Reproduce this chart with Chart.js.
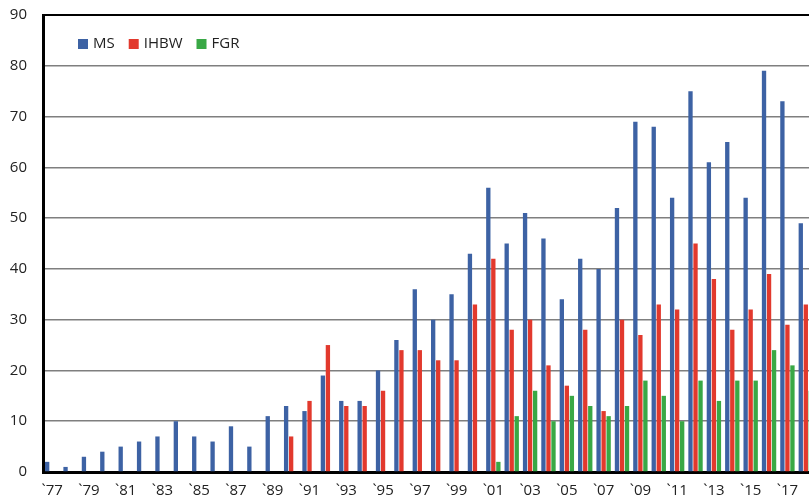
<!DOCTYPE html>
<html>
<head>
<meta charset="utf-8">
<script src="https://cdn.jsdelivr.net/npm/chart.js@4/dist/chart.umd.min.js"></script>
<style>
html,body{margin:0;padding:0;background:#fff;overflow:hidden;width:809px;height:500px;}
#wrap{position:absolute;left:0;top:0;width:815px;height:500px;}
</style>
</head>
<body>
<div id="wrap"><canvas id="c" width="815" height="500"></canvas></div>
<script>
const years = [1977,1978,1979,1980,1981,1982,1983,1984,1985,1986,1987,1988,1989,1990,1991,1992,1993,1994,1995,1996,1997,1998,1999,2000,2001,2002,2003,2004,2005,2006,2007,2008,2009,2010,2011,2012,2013,2014,2015,2016,2017,2018];
const tickLabels = ['`77','`79','`81','`83','`85','`87','`89','`91','`93','`95','`97','`99','`01','`03','`05','`07','`09','`11','`13','`15','`17'];
const msValues   = [2,1,3,4,5,6,7,10,7,6,9,5,11,13,12,19,14,14,20,26,36,30,35,43,56,45,51,46,34,42,40,52,69,68,54,75,61,65,54,79,73,49];
const ihbwValues = [0,0,0,0,0,0,0,0,0,0,0,0,0,7,14,25,13,13,16,24,24,22,22,33,42,28,30,21,17,28,12,30,27,33,32,45,38,28,32,39,29,33];
const fgrValues  = [0,0,0,0,0,0,0,0,0,0,0,0,0,0,0,0,0,0,0,0,0,0,0,0,2,11,16,10,15,13,11,13,18,15,10,18,14,18,18,24,21,16];
const seriesNames = ['MS','IHBW','FGR'];
const seriesColors = ['#3d62a4','#e2392d','#39a845'];

const FONT = '"Open Sans", "Noto Sans", sans-serif';

const legendPlugin = {
  id: 'customLegend',
  afterDraw(chart) {
    const ctx = chart.ctx;
    ctx.save();
    ctx.font = '15px ' + FONT;
    ctx.textBaseline = 'middle';
    ctx.textAlign = 'left';
    let x = 78;
    const y = 44;
    chart.data.datasets.forEach(ds => {
      ctx.fillStyle = ds.backgroundColor;
      ctx.fillRect(x, y - 5, 10, 10);
      ctx.fillStyle = '#222';
      ctx.fillText(ds.label, x + 15, y);
      x += 15 + ctx.measureText(ds.label).width + 14;
    });
    ctx.restore();
  }
};

new Chart(document.getElementById('c'), {
  type: 'bar',
  data: {
    labels: years,
    datasets: [
      {label: seriesNames[0], data: msValues, backgroundColor: seriesColors[0]},
      {label: seriesNames[1], data: ihbwValues, backgroundColor: seriesColors[1]},
      {label: seriesNames[2], data: fgrValues, backgroundColor: seriesColors[2]}
    ]
  },
  options: {
    responsive: false,
    animation: false,
    layout: {padding: {left: 0, right: 0, top: 15, bottom: 0}},
    plugins: {legend: {display: false}, tooltip: {enabled: false}},
    datasets: {bar: {categoryPercentage: 0.82, barPercentage: 0.86}},
    scales: {
      x: {
        grid: {display: false, drawTicks: false},
        border: {display: true, color: '#000', width: 3},
        ticks: {
          autoSkip: false, maxRotation: 0, minRotation: 0, padding: 10,
          color: '#222', font: {family: FONT, size: 15},
          callback: (v, i) => (i % 2 === 0 ? (tickLabels[i / 2] || '') : '')
        },
        afterFit: s => { s.height = 28; s.paddingLeft = 0; s.paddingRight = 0; }
      },
      y: {
        min: 0, max: 90,
        grid: {
          drawTicks: false,
          color: c => (c.tick && (c.tick.value === 90) ? '#000' : '#7f7f7f'),
          lineWidth: c => (c.tick && (c.tick.value === 90) ? 2 : 1.5)
        },
        border: {display: true, color: '#000', width: 3},
        ticks: {stepSize: 10, padding: 16, color: '#222', font: {family: FONT, size: 15}},
        afterFit: s => { s.width = 43; s.paddingTop = 0; s.paddingBottom = 0; }
      }
    }
  },
  plugins: [legendPlugin]
});
</script>
</body>
</html>
